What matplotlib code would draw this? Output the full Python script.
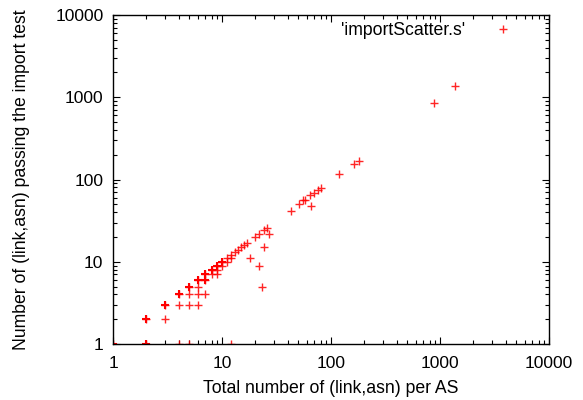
import matplotlib
matplotlib.use("Agg")
import matplotlib.pyplot as plt
from matplotlib.ticker import LogLocator, FixedLocator, NullFormatter

plt.rcParams['font.family'] = ['Liberation Sans', 'DejaVu Sans']

# (link,asn) total per AS vs. number passing the import test
total = [1, 2, 2, 3, 3, 4, 4, 4, 5, 5, 5, 5, 6, 6, 6, 6, 7, 7, 7, 8, 8,
         9, 9, 9, 10, 10, 11, 11, 12, 12, 12, 13, 14, 15, 16, 17, 18, 20,
         22, 22, 23, 24, 24, 26, 27, 43, 51, 55, 58, 64, 65, 70, 75, 80,
         117, 163, 181, 881, 1364]
passed = [1, 1, 2, 2, 3, 1, 3, 4, 1, 3, 4, 5, 3, 4, 5, 6, 4, 6, 7, 7, 8,
          7, 8, 9, 9, 10, 10, 11, 1, 11, 12, 13, 14, 15, 16, 17, 11, 20,
          9, 22, 5, 15, 24, 26, 22, 41, 51, 56, 56, 64, 47, 68, 74, 79,
          116, 156, 166, 851, 1371]
# how many ASes share the same point (drawn heavier)
count = [2, 2, 3, 1, 3, 1, 1, 3, 1, 1, 1, 3, 1, 1, 1, 3, 1, 2, 3, 1, 2,
         1, 1, 2, 1, 2, 1, 1, 1, 1, 1, 1, 1, 1, 1, 1, 1, 1,
         1, 1, 1, 1, 1, 1, 1, 1, 1, 1, 1, 1, 1, 1, 1, 1,
         1, 1, 1, 1, 1]

fig = plt.figure(figsize=(5.83, 4.0), dpi=100)
ax = fig.add_axes([0.194, 0.14, 0.748, 0.8225])

ax.plot(total, passed, linestyle='none', marker='+', color='red',
        markersize=6, markeredgewidth=1.0, alpha=0.85,
        label="'importScatter.s'")
heavy_x = [x for x, c in zip(total, count) if c > 1]
heavy_y = [y for y, c in zip(passed, count) if c > 1]
ax.plot(heavy_x, heavy_y, linestyle='none', marker='+', color='red',
        markersize=6, markeredgewidth=1.5)

ax.set_xscale('log')
ax.set_yscale('log')
ax.set_xlim(1, 10000)
ax.set_ylim(1, 10000)

ax.xaxis.set_major_locator(FixedLocator([1, 10, 100, 1000, 10000]))
ax.yaxis.set_major_locator(FixedLocator([1, 10, 100, 1000, 10000]))
ax.set_xticklabels(['1', '10', '100', '1000', '10000'])
ax.set_yticklabels(['1', '10', '100', '1000', '10000'])
ax.xaxis.set_minor_locator(LogLocator(base=10, subs=range(2, 10)))
ax.yaxis.set_minor_locator(LogLocator(base=10, subs=range(2, 10)))
ax.xaxis.set_minor_formatter(NullFormatter())
ax.yaxis.set_minor_formatter(NullFormatter())

ax.tick_params(which='both', direction='in', top=True, right=True,
               labelsize=12.5)
ax.tick_params(axis='x', pad=9)
ax.tick_params(axis='y', pad=7)
ax.tick_params(which='major', length=5, width=0.8)
ax.tick_params(which='minor', length=3, width=0.8)
for s in ax.spines.values():
    s.set_linewidth(1.0)

ax.set_xlabel('Total number of (link,asn) per AS', fontsize=12.7, labelpad=6)
ax.set_ylabel('Number of (link,asn) passing the import test', fontsize=12.7,
              labelpad=18)

ax.legend(loc='upper right', bbox_to_anchor=(0.94, 1.0), frameon=False,
          markerfirst=False, fontsize=12.7, handlelength=1.5,
          handletextpad=1.4, borderaxespad=0.1, borderpad=0.3)

fig.savefig('out.png', dpi=100)
